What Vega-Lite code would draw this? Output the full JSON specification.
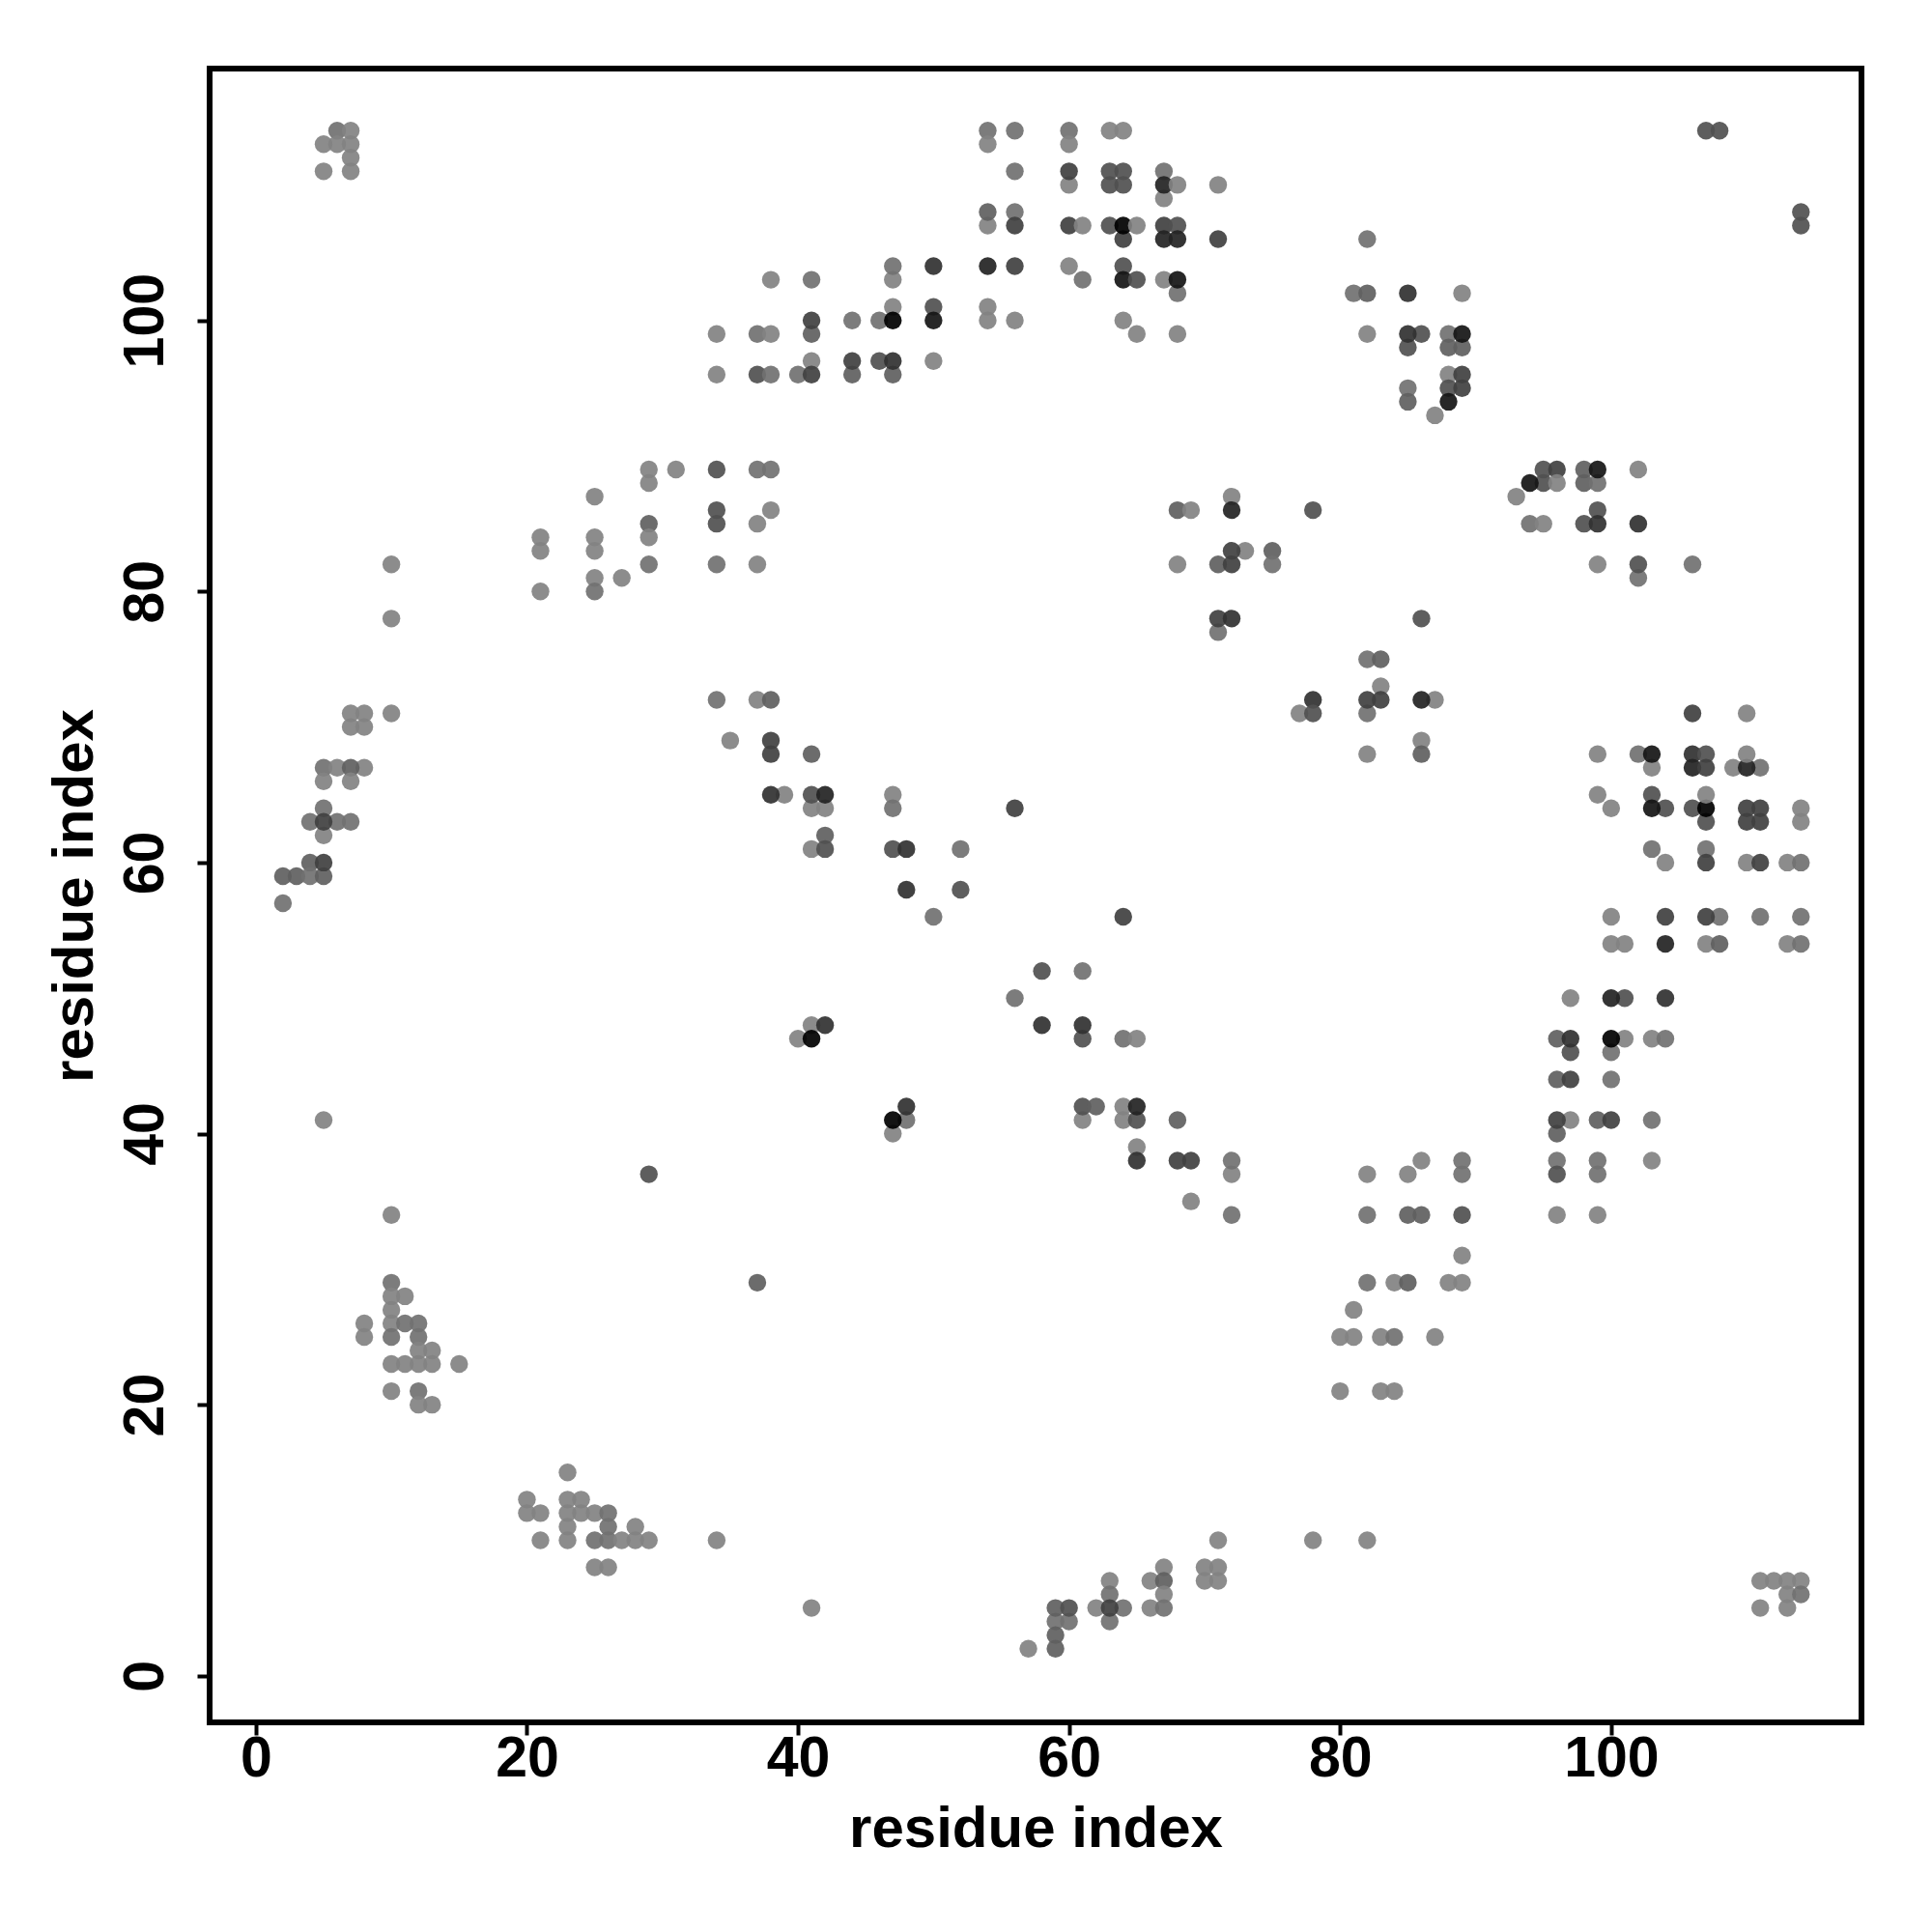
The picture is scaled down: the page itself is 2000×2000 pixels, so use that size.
{"$schema":"https://vega.github.io/schema/vega-lite/v6.json","width":1710,"height":1712,"autosize":{"type":"none"},"padding":{"left":217,"top":71,"right":73,"bottom":217},"background":"white","config":{"view":{"stroke":"#000000","strokeWidth":6},"font":"Liberation Sans"},
"data":{"values":[
{"i":6,"j":114,"s":2},{"i":7,"j":114,"s":1},{"i":5,"j":113,"s":1},{"i":6,"j":113,"s":1},{"i":7,"j":113,"s":1},{"i":7,"j":112,"s":1},{"i":5,"j":111,"s":1},{"i":7,"j":111,"s":1},{"i":38,"j":103,"s":1},{"i":34,"j":99,"s":1},{"i":37,"j":99,"s":2},{"i":38,"j":99,"s":1},{"i":34,"j":96,"s":1},{"i":37,"j":96,"s":4},{"i":38,"j":96,"s":2},{"i":29,"j":89,"s":1},{"i":29,"j":88,"s":1},{"i":31,"j":89,"s":1},{"i":34,"j":89,"s":4},{"i":37,"j":89,"s":2},{"i":38,"j":89,"s":2},{"i":25,"j":87,"s":1},{"i":34,"j":86,"s":4},{"i":34,"j":85,"s":4},{"i":38,"j":86,"s":1},{"i":37,"j":85,"s":1},{"i":29,"j":85,"s":3},{"i":29,"j":84,"s":1},{"i":21,"j":84,"s":1},{"i":21,"j":83,"s":1},{"i":25,"j":84,"s":1},{"i":25,"j":83,"s":1},{"i":10,"j":82,"s":1},{"i":29,"j":82,"s":2},{"i":34,"j":82,"s":2},{"i":37,"j":82,"s":1},{"i":25,"j":81,"s":1},{"i":27,"j":81,"s":1},{"i":21,"j":80,"s":1},{"i":25,"j":80,"s":2},{"i":10,"j":78,"s":1},
{"i":54,"j":114,"s":2},{"i":54,"j":113,"s":1},{"i":56,"j":114,"s":2},{"i":60,"j":114,"s":2},{"i":60,"j":113,"s":1},{"i":63,"j":114,"s":1},{"i":64,"j":114,"s":1},{"i":56,"j":111,"s":2},{"i":60,"j":110,"s":1},{"i":60,"j":111,"s":5},{"i":63,"j":111,"s":4},{"i":64,"j":111,"s":4},{"i":63,"j":110,"s":4},{"i":64,"j":110,"s":4},{"i":67,"j":111,"s":2},{"i":67,"j":109,"s":1},{"i":67,"j":110,"s":7},{"i":68,"j":110,"s":1},{"i":71,"j":110,"s":1},{"i":54,"j":107,"s":1},{"i":54,"j":108,"s":3},{"i":56,"j":108,"s":2},{"i":56,"j":107,"s":5},{"i":60,"j":107,"s":5},{"i":61,"j":107,"s":1},{"i":63,"j":107,"s":4},{"i":64,"j":106,"s":5},{"i":64,"j":107,"s":9},{"i":65,"j":107,"s":1},{"i":67,"j":107,"s":5},{"i":68,"j":107,"s":4},{"i":67,"j":106,"s":7},{"i":68,"j":106,"s":7},{"i":71,"j":106,"s":5},{"i":47,"j":103,"s":1},{"i":47,"j":104,"s":2},{"i":50,"j":104,"s":6},{"i":54,"j":104,"s":7},{"i":56,"j":104,"s":5},{"i":60,"j":104,"s":1},{"i":61,"j":103,"s":2},{"i":64,"j":104,"s":4},{"i":64,"j":103,"s":8},{"i":65,"j":103,"s":4},{"i":67,"j":103,"s":1},{"i":68,"j":102,"s":2},{"i":68,"j":103,"s":8},{"i":41,"j":103,"s":2},{"i":47,"j":101,"s":1},{"i":46,"j":100,"s":2},{"i":47,"j":100,"s":9},{"i":50,"j":101,"s":4},{"i":50,"j":100,"s":8},{"i":54,"j":101,"s":1},{"i":54,"j":100,"s":1},{"i":56,"j":100,"s":1},{"i":44,"j":100,"s":2},{"i":41,"j":99,"s":3},{"i":41,"j":100,"s":5},{"i":64,"j":100,"s":1},{"i":65,"j":99,"s":1},{"i":68,"j":99,"s":1},{"i":41,"j":97,"s":1},{"i":40,"j":96,"s":2},{"i":41,"j":96,"s":5},{"i":44,"j":96,"s":3},{"i":44,"j":97,"s":5},{"i":46,"j":97,"s":4},{"i":47,"j":96,"s":3},{"i":47,"j":97,"s":6},{"i":50,"j":97,"s":1},{"i":68,"j":86,"s":3},{"i":69,"j":86,"s":1},{"i":72,"j":87,"s":1},{"i":72,"j":86,"s":7},{"i":78,"j":86,"s":4},{"i":73,"j":83,"s":1},{"i":72,"j":83,"s":5},{"i":75,"j":83,"s":3},{"i":75,"j":82,"s":2},{"i":68,"j":82,"s":1},{"i":71,"j":82,"s":3},{"i":72,"j":82,"s":5},{"i":71,"j":77,"s":2},{"i":71,"j":78,"s":5},{"i":72,"j":78,"s":6},
{"i":107,"j":114,"s":4},{"i":108,"j":114,"s":4},{"i":114,"j":108,"s":4},{"i":114,"j":107,"s":4},{"i":82,"j":106,"s":2},{"i":81,"j":102,"s":2},{"i":82,"j":102,"s":3},{"i":85,"j":102,"s":6},{"i":89,"j":102,"s":1},{"i":82,"j":99,"s":1},{"i":85,"j":98,"s":4},{"i":86,"j":99,"s":4},{"i":85,"j":99,"s":6},{"i":88,"j":99,"s":2},{"i":88,"j":98,"s":3},{"i":89,"j":98,"s":3},{"i":89,"j":99,"s":8},{"i":88,"j":96,"s":1},{"i":89,"j":96,"s":5},{"i":88,"j":95,"s":4},{"i":89,"j":95,"s":5},{"i":88,"j":94,"s":8},{"i":85,"j":95,"s":2},{"i":85,"j":94,"s":3},{"i":87,"j":93,"s":1},{"i":95,"j":89,"s":4},{"i":96,"j":89,"s":5},{"i":98,"j":89,"s":3},{"i":98,"j":88,"s":3},{"i":99,"j":88,"s":2},{"i":99,"j":89,"s":8},{"i":102,"j":89,"s":1},{"i":95,"j":88,"s":4},{"i":96,"j":88,"s":1},{"i":94,"j":88,"s":8},{"i":93,"j":87,"s":1},{"i":99,"j":86,"s":4},{"i":94,"j":85,"s":2},{"i":95,"j":85,"s":1},{"i":98,"j":85,"s":4},{"i":99,"j":85,"s":6},{"i":102,"j":85,"s":6},{"i":99,"j":82,"s":1},{"i":102,"j":81,"s":2},{"i":102,"j":82,"s":4},{"i":106,"j":82,"s":2},{"i":86,"j":78,"s":4},{"i":82,"j":75,"s":2},{"i":83,"j":75,"s":3},
{"i":83,"j":73,"s":1},{"i":78,"j":72,"s":6},{"i":82,"j":71,"s":2},{"i":82,"j":72,"s":5},{"i":83,"j":72,"s":5},{"i":87,"j":72,"s":1},{"i":86,"j":72,"s":7},{"i":77,"j":71,"s":1},{"i":78,"j":71,"s":4},{"i":86,"j":69,"s":1},{"i":86,"j":68,"s":3},{"i":82,"j":68,"s":1},{"i":106,"j":71,"s":5},{"i":110,"j":71,"s":1},{"i":99,"j":68,"s":1},{"i":102,"j":68,"s":2},{"i":103,"j":67,"s":1},{"i":103,"j":68,"s":8},{"i":106,"j":68,"s":6},{"i":107,"j":68,"s":4},{"i":109,"j":67,"s":1},{"i":111,"j":67,"s":2},{"i":110,"j":67,"s":7},{"i":110,"j":68,"s":1},{"i":106,"j":67,"s":7},{"i":107,"j":67,"s":5},{"i":99,"j":65,"s":1},{"i":100,"j":64,"s":1},{"i":103,"j":65,"s":4},{"i":104,"j":64,"s":4},{"i":103,"j":64,"s":8},{"i":106,"j":64,"s":4},{"i":107,"j":63,"s":4},{"i":107,"j":64,"s":9},{"i":107,"j":65,"s":1},{"i":110,"j":64,"s":5},{"i":111,"j":64,"s":5},{"i":110,"j":63,"s":5},{"i":111,"j":63,"s":5},{"i":114,"j":64,"s":1},{"i":114,"j":63,"s":1},{"i":103,"j":61,"s":2},{"i":104,"j":60,"s":1},{"i":107,"j":61,"s":2},{"i":107,"j":60,"s":5},{"i":110,"j":60,"s":1},{"i":111,"j":60,"s":5},{"i":113,"j":60,"s":1},{"i":114,"j":60,"s":2},{"i":100,"j":56,"s":1},{"i":104,"j":56,"s":5},{"i":108,"j":56,"s":2},{"i":107,"j":56,"s":5},{"i":111,"j":56,"s":2},{"i":114,"j":56,"s":2},{"i":100,"j":54,"s":1},{"i":101,"j":54,"s":1},{"i":104,"j":54,"s":7},{"i":107,"j":54,"s":1},{"i":108,"j":54,"s":3},{"i":113,"j":54,"s":1},{"i":114,"j":54,"s":2},{"i":97,"j":50,"s":1},{"i":101,"j":50,"s":4},{"i":100,"j":50,"s":7},{"i":104,"j":50,"s":6},{"i":96,"j":47,"s":3},{"i":97,"j":46,"s":4},{"i":97,"j":47,"s":6},{"i":101,"j":47,"s":1},{"i":100,"j":46,"s":2},{"i":100,"j":47,"s":9},{"i":103,"j":47,"s":1},{"i":104,"j":47,"s":2},{"i":96,"j":44,"s":3},{"i":97,"j":44,"s":5},{"i":100,"j":44,"s":2},{"i":97,"j":41,"s":1},{"i":96,"j":40,"s":3},{"i":96,"j":41,"s":5},{"i":99,"j":41,"s":3},{"i":100,"j":41,"s":5},{"i":103,"j":41,"s":2},{"i":96,"j":38,"s":2},{"i":96,"j":37,"s":4},{"i":99,"j":38,"s":2},{"i":99,"j":37,"s":2},{"i":103,"j":38,"s":1},{"i":86,"j":38,"s":1},{"i":85,"j":37,"s":1},{"i":82,"j":37,"s":1},{"i":89,"j":38,"s":2},{"i":89,"j":37,"s":2},{"i":82,"j":34,"s":2},{"i":85,"j":34,"s":3},{"i":86,"j":34,"s":3},{"i":89,"j":34,"s":4},{"i":96,"j":34,"s":1},{"i":99,"j":34,"s":1},
{"i":7,"j":71,"s":1},{"i":8,"j":71,"s":1},{"i":7,"j":70,"s":1},{"i":8,"j":70,"s":1},{"i":10,"j":71,"s":1},{"i":5,"j":67,"s":2},{"i":6,"j":67,"s":1},{"i":8,"j":67,"s":1},{"i":7,"j":67,"s":3},{"i":5,"j":66,"s":1},{"i":7,"j":66,"s":1},{"i":5,"j":64,"s":2},{"i":4,"j":63,"s":2},{"i":6,"j":63,"s":2},{"i":7,"j":63,"s":2},{"i":5,"j":62,"s":1},{"i":5,"j":63,"s":5},{"i":4,"j":60,"s":3},{"i":2,"j":59,"s":3},{"i":3,"j":59,"s":3},{"i":4,"j":59,"s":2},{"i":5,"j":59,"s":3},{"i":5,"j":60,"s":5},{"i":2,"j":57,"s":2},{"i":5,"j":41,"s":1},{"i":29,"j":37,"s":4},{"i":10,"j":34,"s":1},{"i":34,"j":72,"s":2},{"i":37,"j":72,"s":1},{"i":38,"j":72,"s":3},{"i":35,"j":69,"s":1},{"i":38,"j":69,"s":5},{"i":38,"j":68,"s":5},{"i":39,"j":65,"s":1},{"i":38,"j":65,"s":6},
{"i":41,"j":68,"s":3},{"i":41,"j":64,"s":1},{"i":42,"j":64,"s":1},{"i":41,"j":65,"s":4},{"i":42,"j":65,"s":7},{"i":47,"j":65,"s":1},{"i":47,"j":64,"s":2},{"i":56,"j":64,"s":5},{"i":42,"j":62,"s":3},{"i":41,"j":61,"s":1},{"i":42,"j":61,"s":4},{"i":47,"j":61,"s":4},{"i":48,"j":61,"s":6},{"i":52,"j":61,"s":2},{"i":48,"j":58,"s":6},{"i":52,"j":58,"s":4},{"i":50,"j":56,"s":2},{"i":64,"j":56,"s":5},{"i":58,"j":52,"s":4},{"i":61,"j":52,"s":2},{"i":56,"j":50,"s":2},{"i":58,"j":48,"s":6},{"i":61,"j":47,"s":4},{"i":61,"j":48,"s":6},{"i":64,"j":47,"s":2},{"i":65,"j":47,"s":1},{"i":41,"j":48,"s":1},{"i":42,"j":48,"s":6},{"i":40,"j":47,"s":1},{"i":41,"j":47,"s":9},{"i":48,"j":41,"s":2},{"i":47,"j":40,"s":1},{"i":48,"j":42,"s":6},{"i":47,"j":41,"s":9},{"i":61,"j":41,"s":1},{"i":61,"j":42,"s":4},{"i":62,"j":42,"s":3},{"i":64,"j":42,"s":1},{"i":64,"j":41,"s":1},{"i":65,"j":41,"s":4},{"i":65,"j":42,"s":7},{"i":68,"j":41,"s":3},{"i":65,"j":39,"s":1},{"i":65,"j":38,"s":6},{"i":68,"j":38,"s":5},{"i":69,"j":38,"s":5},{"i":72,"j":37,"s":1},{"i":72,"j":38,"s":2},{"i":69,"j":35,"s":1},{"i":72,"j":34,"s":2},
{"i":37,"j":29,"s":3},{"i":10,"j":29,"s":2},{"i":10,"j":28,"s":1},{"i":11,"j":28,"s":1},{"i":10,"j":27,"s":1},{"i":8,"j":26,"s":1},{"i":8,"j":25,"s":1},{"i":10,"j":26,"s":1},{"i":11,"j":26,"s":2},{"i":12,"j":26,"s":2},{"i":10,"j":25,"s":2},{"i":12,"j":25,"s":2},{"i":12,"j":24,"s":1},{"i":13,"j":24,"s":1},{"i":10,"j":23,"s":1},{"i":11,"j":23,"s":1},{"i":12,"j":23,"s":1},{"i":13,"j":23,"s":1},{"i":15,"j":23,"s":1},{"i":10,"j":21,"s":1},{"i":12,"j":21,"s":2},{"i":12,"j":20,"s":1},{"i":13,"j":20,"s":1},{"i":23,"j":15,"s":1},{"i":20,"j":13,"s":1},{"i":23,"j":13,"s":1},{"i":24,"j":13,"s":1},{"i":20,"j":12,"s":1},{"i":21,"j":12,"s":1},{"i":23,"j":12,"s":1},{"i":24,"j":12,"s":1},{"i":25,"j":12,"s":1},{"i":26,"j":12,"s":2},{"i":23,"j":11,"s":1},{"i":26,"j":11,"s":2},{"i":28,"j":11,"s":1},{"i":21,"j":10,"s":1},{"i":23,"j":10,"s":1},{"i":25,"j":10,"s":2},{"i":26,"j":10,"s":2},{"i":27,"j":10,"s":1},{"i":28,"j":10,"s":1},{"i":29,"j":10,"s":1},{"i":34,"j":10,"s":1},{"i":25,"j":8,"s":1},{"i":26,"j":8,"s":1},
{"i":81,"j":27,"s":1},{"i":80,"j":25,"s":1},{"i":81,"j":25,"s":1},{"i":80,"j":21,"s":1},{"i":41,"j":5,"s":1},{"i":78,"j":10,"s":1},{"i":71,"j":10,"s":1},{"i":67,"j":8,"s":1},{"i":70,"j":8,"s":1},{"i":71,"j":8,"s":1},{"i":66,"j":7,"s":1},{"i":67,"j":7,"s":3},{"i":70,"j":7,"s":1},{"i":71,"j":7,"s":1},{"i":63,"j":7,"s":1},{"i":63,"j":6,"s":2},{"i":67,"j":6,"s":1},{"i":62,"j":5,"s":1},{"i":64,"j":5,"s":2},{"i":66,"j":5,"s":1},{"i":67,"j":5,"s":2},{"i":63,"j":4,"s":2},{"i":63,"j":5,"s":5},{"i":59,"j":4,"s":2},{"i":60,"j":4,"s":2},{"i":59,"j":5,"s":3},{"i":60,"j":5,"s":4},{"i":59,"j":3,"s":3},{"i":59,"j":2,"s":3},{"i":57,"j":2,"s":1},
{"i":89,"j":31,"s":1},{"i":82,"j":29,"s":2},{"i":84,"j":29,"s":1},{"i":85,"j":29,"s":3},{"i":88,"j":29,"s":1},{"i":89,"j":29,"s":1},{"i":83,"j":25,"s":1},{"i":84,"j":25,"s":2},{"i":87,"j":25,"s":1},{"i":83,"j":21,"s":1},{"i":84,"j":21,"s":1},{"i":82,"j":10,"s":1},{"i":111,"j":7,"s":1},{"i":112,"j":7,"s":1},{"i":113,"j":7,"s":1},{"i":114,"j":7,"s":1},{"i":113,"j":6,"s":1},{"i":114,"j":6,"s":2},{"i":111,"j":5,"s":1},{"i":113,"j":5,"s":1}
]},
"mark":{"type":"circle","size":339,"opacity":0.92},
"encoding":{
"x":{"field":"i","type":"quantitative","scale":{"domain":[-3.41,118.47],"nice":false,"zero":false},"axis":{"title":"residue index","values":[0,20,40,60,80,100],"grid":false,"domain":false,"tickColor":"#000000","tickWidth":4,"tickSize":13,"labelFont":"Liberation Sans","labelFontWeight":"bold","labelFontSize":59,"labelColor":"#000000","labelPadding":-5,"titleFont":"Liberation Sans","titleFontWeight":"bold","titleFontSize":60,"titleColor":"#000000","titlePadding":14}},
"y":{"field":"j","type":"quantitative","scale":{"domain":[-3.44,118.58],"nice":false,"zero":false},"axis":{"title":"residue index","values":[0,20,40,60,80,100],"grid":false,"domain":false,"tickColor":"#000000","tickWidth":4,"tickSize":13,"labelFont":"Liberation Sans","labelFontWeight":"bold","labelFontSize":59,"labelColor":"#000000","labelAngle":-90,"labelAlign":"center","labelBaseline":"bottom","labelPadding":24,"titleFont":"Liberation Sans","titleFontWeight":"bold","titleFontSize":60,"titleColor":"#000000","titlePadding":13}},
"color":{"field":"s","type":"quantitative","legend":null,"scale":{"domain":[1,9],"range":["#828282","#000000"]}}
}}
